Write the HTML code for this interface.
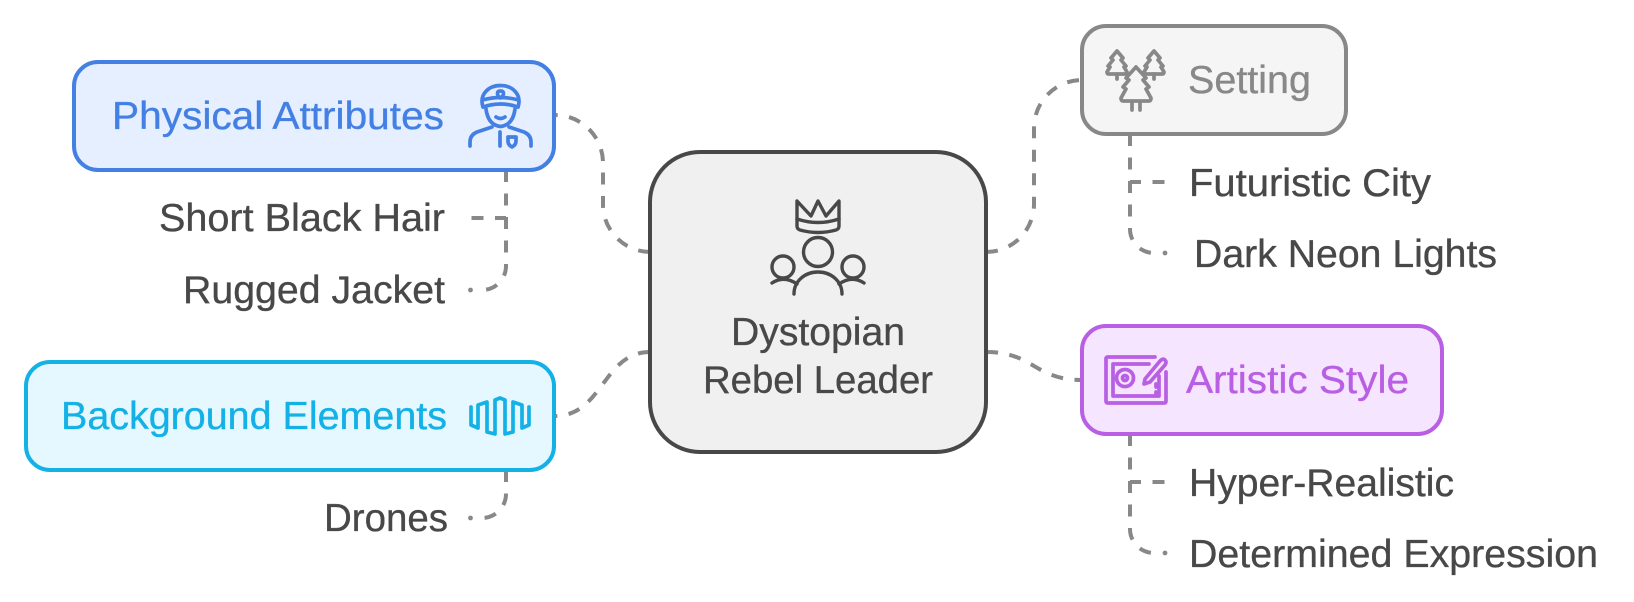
<!DOCTYPE html>
<html lang="en">
<head>
<meta charset="utf-8">
<title>Dystopian Rebel Leader</title>
<style>
html,body{margin:0;padding:0;background:#fff;width:1634px;height:602px;overflow:hidden}
svg{display:block}
text{font-family:"Liberation Sans",sans-serif;font-size:39px;fill:#484848;stroke:#484848;stroke-width:.35}
.c{fill:none;stroke:#888;stroke-width:4;stroke-dasharray:12 11.5}
.i{fill:none;stroke-width:3.7;stroke-linecap:round;stroke-linejoin:round}
</style>
</head>
<body>
<svg width="1634" height="602" viewBox="0 0 1634 602" xmlns="http://www.w3.org/2000/svg">
<rect width="1634" height="602" fill="#fff"/>
<!-- connectors -->
<path class="c" d="M650 252A47.500 47.500 0 0 1 603 205V163A48 48 0 0 0 555 115"/>
<path class="c" d="M650 352C603 352 603 416 555 416"/>
<path class="c" d="M986 252A48 48 0 0 0 1034 204V128A48 48 0 0 1 1082 80"/>
<path class="c" d="M986 352C1034 352 1034 380 1082 380"/>
<path class="c" d="M506 170V218H469"/>
<path class="c" d="M506 170V266A24 24 0 0 1 482 290"/>
<path class="c" d="M506 470V494A24 24 0 0 1 482 518"/>
<path class="c" d="M1130 134V182H1168"/>
<path class="c" d="M1130 134V229A24 24 0 0 0 1154 253"/>
<path class="c" d="M1130 434V482H1168"/>
<path class="c" d="M1130 434V529A24 24 0 0 0 1154 553"/>
<g fill="#888">
<circle cx="470.500" cy="290" r="2.400"/>
<circle cx="470.500" cy="518" r="2.400"/>
<circle cx="1165" cy="253" r="2.400"/>
<circle cx="1165" cy="553" r="2.400"/>
</g>
<!-- boxes -->
<rect x="74" y="62" width="480" height="108" rx="24" fill="#e5efff" stroke="#4480e4" stroke-width="4"/>
<rect x="26" y="362" width="528" height="108" rx="24" fill="#e5f8ff" stroke="#14b1e7" stroke-width="4"/>
<rect x="650" y="152" width="336" height="300" rx="50" fill="#f0f0f0" stroke="#484848" stroke-width="4"/>
<rect x="1082" y="26" width="264" height="108" rx="24" fill="#f5f5f5" stroke="#888" stroke-width="4"/>
<rect x="1082" y="326" width="360" height="108" rx="24" fill="#f6e5ff" stroke="#b95fe3" stroke-width="4"/>
<!-- labels -->
<text x="112" y="129" textLength="332" lengthAdjust="spacingAndGlyphs" style="fill:#4480e4;stroke:#4480e4">Physical Attributes</text>
<text x="159" y="231" textLength="286" lengthAdjust="spacingAndGlyphs">Short Black Hair</text>
<text x="183" y="303" textLength="262" lengthAdjust="spacingAndGlyphs">Rugged Jacket</text>
<text x="61" y="429" textLength="386" lengthAdjust="spacingAndGlyphs" style="fill:#14b1e7;stroke:#14b1e7">Background Elements</text>
<text x="324" y="531" textLength="124" lengthAdjust="spacingAndGlyphs">Drones</text>
<text x="731" y="345" textLength="174" lengthAdjust="spacingAndGlyphs">Dystopian</text>
<text x="703" y="393" textLength="230" lengthAdjust="spacingAndGlyphs">Rebel Leader</text>
<text x="1188" y="93" textLength="123" lengthAdjust="spacingAndGlyphs" style="fill:#888;stroke:#888">Setting</text>
<text x="1189" y="196" textLength="242" lengthAdjust="spacingAndGlyphs">Futuristic City</text>
<text x="1194" y="267" textLength="303" lengthAdjust="spacingAndGlyphs">Dark Neon Lights</text>
<text x="1186" y="393" textLength="223" lengthAdjust="spacingAndGlyphs" style="fill:#b95fe3;stroke:#b95fe3">Artistic Style</text>
<text x="1189" y="496" textLength="265" lengthAdjust="spacingAndGlyphs">Hyper-Realistic</text>
<text x="1189" y="567" textLength="409" lengthAdjust="spacingAndGlyphs">Determined Expression</text>
<!-- officer icon -->
<g class="i" stroke="#4480e4">
<path d="M483 107C479 95 488 85.500 500.500 85.500S522 95 518 107"/>
<path d="M482.500 100Q500.500 95 518.500 100"/>
<path d="M483 107Q500.500 101 518 107"/>
<path d="M486 109Q488 125 500.500 126.500Q513 125 515 109"/>
<path d="M496 117Q500.500 120 505 117"/>
<path d="M500.500 91q3 0 3 2.500t-3 4.500q-3-2-3-4.500t3-2.500Z"/>
<path d="M470 146V142Q470 135 477 132L492 127"/>
<path d="M531 146V142Q531 135 524 132L509 127"/>
<path d="M500 132V146"/>
<path d="M508 137H516V141Q516 145 512 147Q508 145 508 141Z"/>
</g>
<!-- waveform icon -->
<polyline class="i" stroke="#14b1e7" points="471,407 471,425 478,428 478,405 487,402 487,432 495,434 495,400 500,398 505,400 505,434 513,432 513,402 522,405 522,428 529,425 529,407"/>
<!-- leader icon -->
<g class="i" stroke="#484848" style="stroke-width:3.400">
<path d="M797 201L811 216L818 201L826 216L839 201V226Q839 229 836 230Q818 235 800 230Q797 229 797 226Z"/>
<path d="M797 219Q818 226 839 219"/>
<circle cx="818" cy="252" r="14.500"/>
<circle cx="783" cy="267" r="11"/>
<circle cx="853" cy="267" r="11"/>
<path d="M794 294C794 281 805 272 818 272S842 281 842 294"/>
<path d="M772 283Q784 275 797 284"/>
<path d="M864 283Q852 275 839 284"/>
</g>
<!-- trees icon -->
<g class="i" stroke="#888">
<path d="M1117 51L1123 58L1121 60L1126 66L1124 67L1127 72Q1127 74 1125 74H1109Q1107 74 1107 72L1110 67L1108 66L1113 60L1111 58Z"/>
<path d="M1117 74V79"/>
<path d="M1154 51L1160 58L1158 60L1163 66L1161 67L1164 72Q1164 74 1162 74H1146Q1144 74 1144 72L1147 67L1145 66L1150 60L1148 58Z"/>
<path d="M1154 74V79"/>
<path d="M1136 67L1146 78L1143 80L1149 87L1146 89L1151 98Q1151 101 1149 101H1123Q1121 101 1121 98L1126 89L1123 87L1129 80L1126 78Z"/>
<path d="M1132 102V110M1140 102V110"/>
</g>
<!-- tablet icon -->
<g class="i" stroke="#b95fe3">
<path d="M1155 357H1108Q1106 357 1106 359V401Q1106 403 1108 403H1164Q1166 403 1166 401V372"/>
<path d="M1149 364H1113V396H1159V376"/>
<circle cx="1125" cy="378" r="8.500"/>
<circle cx="1125" cy="378" r="2.500"/>
<path d="M1145 379L1160 361Q1163 358 1165 360Q1167 362 1165 365L1150 382L1144 384Z"/>
<path d="M1156 384V387M1156 392V395"/>
</g>
</svg>
</body>
</html>
